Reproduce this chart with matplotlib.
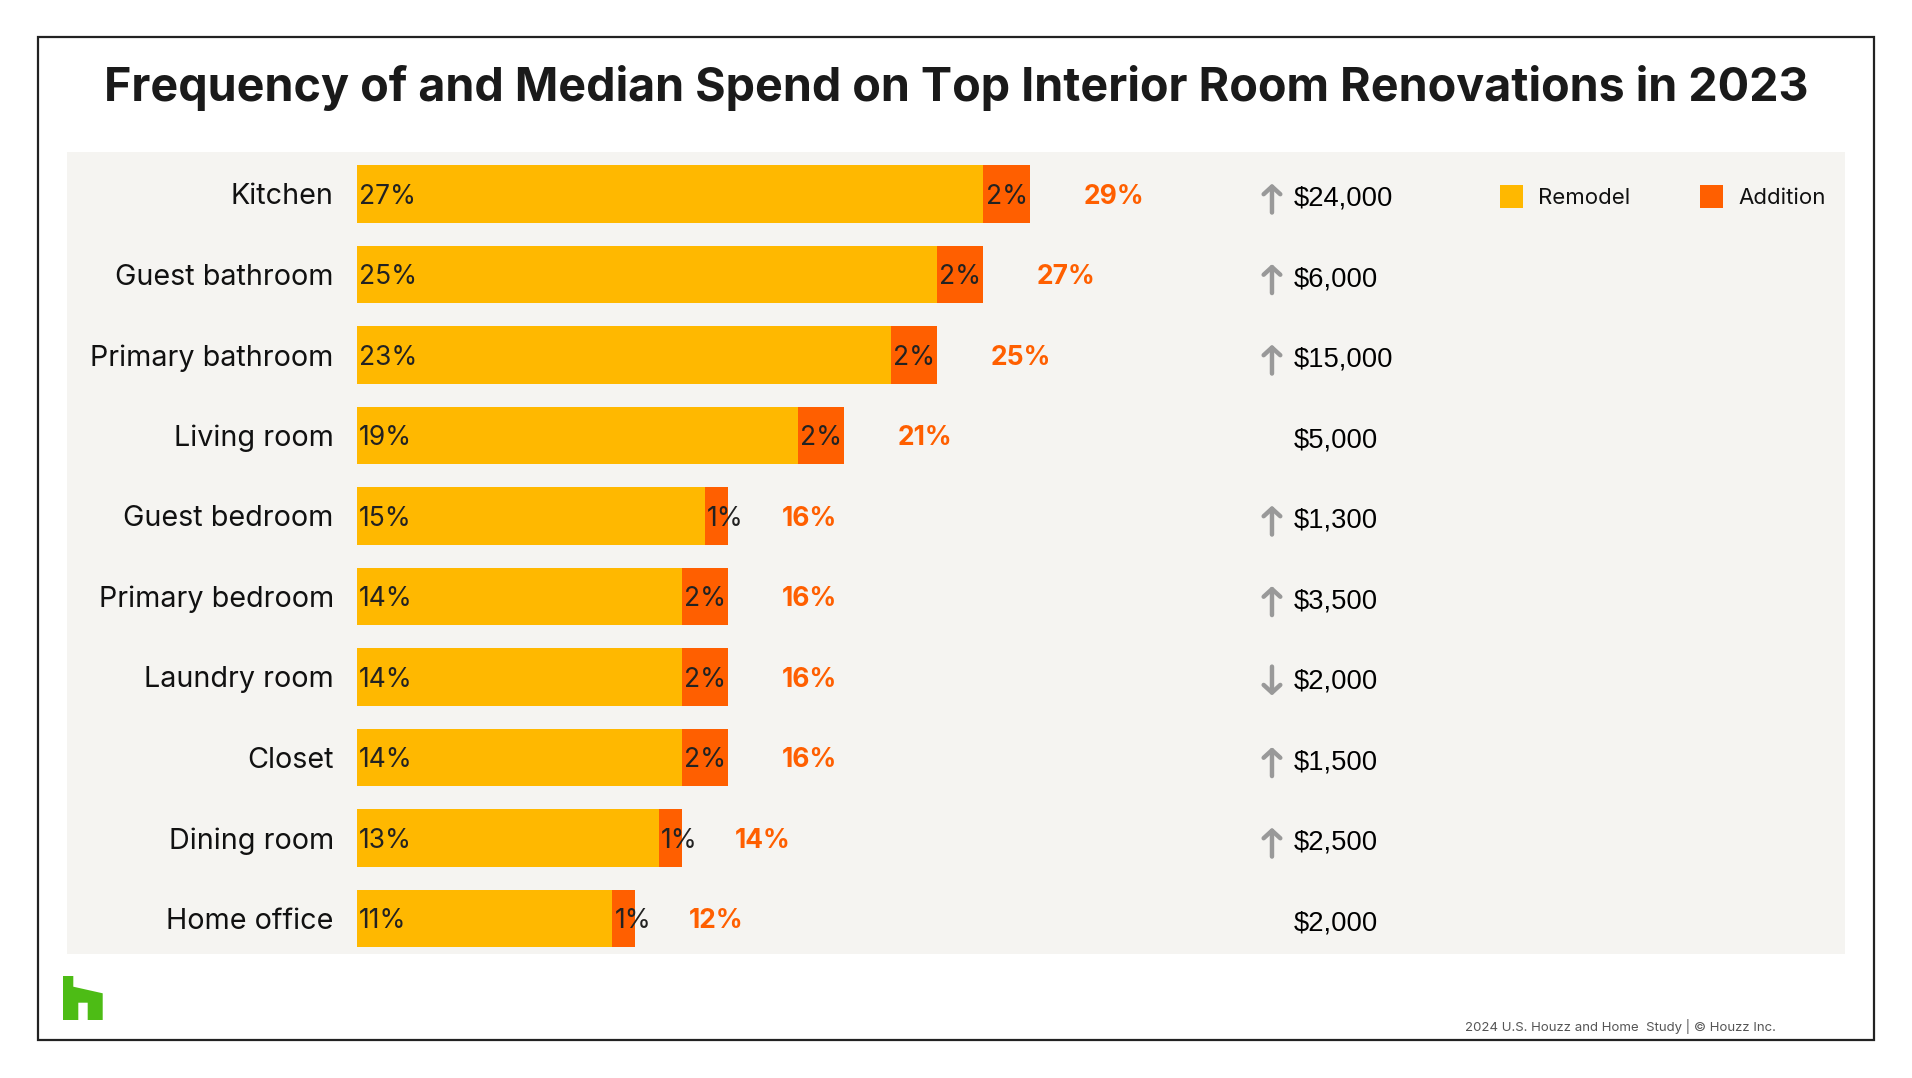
import matplotlib
matplotlib.use("Agg")
import matplotlib.pyplot as plt
from matplotlib.patches import Rectangle, Polygon

# Data
rooms = ["Kitchen", "Guest bathroom", "Primary bathroom", "Living room", "Guest bedroom",
         "Primary bedroom", "Laundry room", "Closet", "Dining room", "Home office"]
remodel = [27, 25, 23, 19, 15, 14, 14, 14, 13, 11]
addition = [2, 2, 2, 2, 1, 2, 2, 2, 1, 1]
spend = ["$24,000", "$6,000", "$15,000", "$5,000", "$1,300", "$3,500", "$2,000", "$1,500", "$2,500", "$2,000"]
trend = ["up", "up", "up", "", "up", "up", "down", "up", "up", ""]

YELLOW = "#FFB800"
ORANGE = "#FF5F00"
PANEL = "#F5F4F1"
W, H = 1912, 1078
MAIN_FONT = ["Inter", "DejaVu Sans"]
NUM_FONT = ["Liberation Sans", "DejaVu Sans"]


def fx(x):
    return x / W


def fy(y):
    return 1 - y / H


fig = plt.figure(figsize=(W / 100, H / 100), dpi=100)
fig.patch.set_facecolor("white")

# outer frame and grey panel
fig.patches.append(Rectangle((fx(38), fy(1040)), fx(1874) - fx(38), fy(37) - fy(1040),
                             transform=fig.transFigure, fill=False, ec="#222222", lw=1.6))

ax = fig.add_axes([fx(67), fy(954), fx(1845) - fx(67), fy(152) - fy(954)])
ax.set_facecolor(PANEL)
for s in ax.spines.values():
    s.set_visible(False)
ax.set_xticks([])
ax.set_yticks([])
ax.set_xlim(-12.5, 64.14)
ax.set_ylim(9.44, -0.522)

ypos = list(range(len(rooms)))
totals = [r + a for r, a in zip(remodel, addition)]
ax.barh(ypos, remodel, height=0.71, color=YELLOW, lw=0)
ax.barh(ypos, addition, left=remodel, height=0.71, color=ORANGE, lw=0)

dy = 0.035  # text sits a touch below the bar centre
for i in ypos:
    ax.text(-1.0, i + dy, rooms[i], ha="right", va="center", fontsize=20.7, family=MAIN_FONT, color="#111111")
    ax.text(0.1, i + dy, f"{remodel[i]}%", ha="left", va="center", fontsize=19, family=MAIN_FONT, color="#222222")
    ax.text(remodel[i] + 0.1, i + dy, f"{addition[i]}%", ha="left", va="center", fontsize=19,
            family=MAIN_FONT, color="#222222")
    ax.text(totals[i] + 2.3, i + dy, f"{totals[i]}%", ha="left", va="center", fontsize=19,
            family=MAIN_FONT, weight="bold", color=ORANGE)
    ax.text(40.39, i + 0.06, spend[i], ha="left", va="center", fontsize=19.7, family=NUM_FONT, color="black")
    if trend[i]:
        d = 0.18 if trend[i] == "up" else -0.18
        ax.annotate("", xy=(39.44, i + 0.05 - d), xytext=(39.44, i + 0.05 + d),
                    arrowprops=dict(arrowstyle="->,head_length=0.55,head_width=0.6", lw=3.2,
                                    color="#999999", capstyle="round", joinstyle="round",
                                    shrinkA=0, shrinkB=0))

# legend
for sx, tx, col, lab in [(1500, 1538, YELLOW, "Remodel"), (1700, 1738, ORANGE, "Addition")]:
    fig.patches.append(Rectangle((fx(sx), fy(208)), fx(23), 23 / H, transform=fig.transFigure,
                                 color=col, lw=0))
    fig.text(fx(tx), fy(198), lab, ha="left", va="center", fontsize=16, family=MAIN_FONT, color="#111111")

# title
fig.text(fx(956), fy(88), "Frequency of and Median Spend on Top Interior Room Renovations in 2023",
         ha="center", va="center", fontsize=33.6, weight="bold", family=MAIN_FONT, color="#1a1a1a")

# logo
logo = [(63, 976), (73.3, 976), (73.3, 986.7), (102.7, 993.3), (102.7, 1020), (87.7, 1020),
        (87.7, 1002.7), (78.3, 1002.7), (78.3, 1020), (63, 1020)]
fig.patches.append(Polygon([(fx(x), fy(y)) for x, y in logo], closed=True,
                           transform=fig.transFigure, color="#4DBC15", lw=0))

fig.text(fx(1465), fy(1027), "2024 U.S. Houzz and Home  Study | \u00a9 Houzz Inc.", ha="left", va="center",
         fontsize=9.5, family=MAIN_FONT, color="#555555")

fig.savefig("out.png", dpi=100)
